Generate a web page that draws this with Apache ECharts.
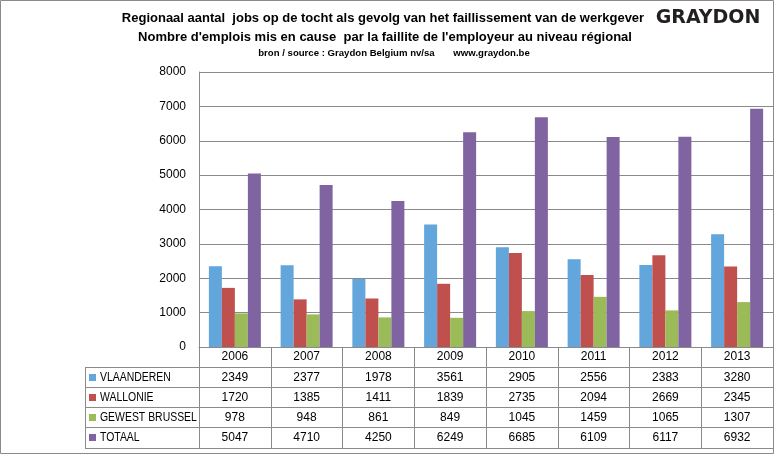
<!DOCTYPE html>
<html><head><meta charset="utf-8">
<script src="https://cdn.jsdelivr.net/npm/echarts@6/dist/echarts.min.js"></script>
<style>html,body{margin:0;padding:0;background:#fff}#c{width:775px;height:455px}</style>
</head><body><div id="c"></div>
<script>
const years = ['2006','2007','2008','2009','2010','2011','2012','2013'];
const vlaanderen = [2349,2377,1978,3561,2905,2556,2383,3280];
const wallonie = [1720,1385,1411,1839,2735,2094,2669,2345];
const brussel = [978,948,861,849,1045,1459,1065,1307];
const totaal = [5047,4710,4250,6249,6685,6109,6117,6932];
const seriesNames = ['VLAANDEREN','WALLONIE','GEWEST BRUSSEL','TOTAAL'];
const seriesData = [vlaanderen, wallonie, brussel, totaal];
const colors = ['#62A6DC','#C0504D','#9BBB59','#8064A2'];
const titleLines = [
  'Regionaal aantal  jobs op de tocht als gevolg van het faillissement van de werkgever',
  "Nombre d'emplois mis en cause  par la faillite de l'employeur au niveau régional",
  'bron / source : Graydon Belgium nv/sa       www.graydon.be'
];
const yMin = 0, yMax = 8000, yStep = 1000;

const GRID = '#8a8a8a';
const FONT = "'Liberation Sans', Arial, sans-serif";

const chart = echarts.init(document.getElementById('c'), null, {renderer:'canvas'});
chart.setOption({
  animation:false,
  backgroundColor:'#fff',
  grid:{left:199, right:2, top:72, bottom:108, containLabel:false},
  xAxis:{type:'category', data:years, boundaryGap:true,
    axisLine:{show:true, lineStyle:{color:GRID}},
    axisTick:{show:true, interval:0, length:101, lineStyle:{color:GRID}},
    axisLabel:{show:true, interval:0, margin:4, color:'#000', fontFamily:FONT, fontSize:12},
    splitLine:{show:false}},
  yAxis:{type:'value', min:yMin, max:yMax, interval:yStep,
    axisLine:{show:true, lineStyle:{color:GRID}},
    axisTick:{show:false},
    axisLabel:{margin:13, color:'#000', fontFamily:FONT, fontSize:12, formatter:v=>String(v)},
    splitLine:{show:true, lineStyle:{color:GRID}}},
  series: seriesData.map((d,i)=>({
    name:seriesNames[i], type:'bar', data:d, barWidth:13, barGap:'0%',
    itemStyle:{color:colors[i]}
  }))
});

const xs = years.map(y => chart.convertToPixel({xAxisIndex:0}, y));
const y0 = chart.convertToPixel({yAxisIndex:0}, 0);
const rowH = 20;
const tableLeft = 85, tableRight = 773;
const g = [];
// outer border
g.push({type:'rect', shape:{x:0.5,y:0.5,width:773,height:453}, style:{fill:null, stroke:GRID, lineWidth:1}, silent:true});
// title
g.push({type:'text', style:{text:titleLines[0], x:383, y:18, align:'center', verticalAlign:'middle', font:"bold 13px "+FONT, fill:'#000'}, silent:true});
g.push({type:'text', style:{text:titleLines[1], x:385, y:37, align:'center', verticalAlign:'middle', font:"bold 13px "+FONT, fill:'#000'}, silent:true});
g.push({type:'text', style:{text:titleLines[2], x:394, y:53, align:'center', verticalAlign:'middle', font:"bold 9.6px "+FONT, fill:'#000'}, silent:true});
g.push({type:'text', style:{text:'GRAYDON', x:708, y:18, align:'center', verticalAlign:'middle', font:"bold 19px 'DejaVu Sans', sans-serif", fill:'#231f20'}, silent:true});
// table lines
for (let r=1;r<=5;r++){
  const yy = Math.round(y0 + r*rowH) + 0.5 + (r===5?1:0);
  g.push({type:'line', shape:{x1:tableLeft, y1:yy, x2:tableRight, y2:yy}, style:{stroke:GRID, lineWidth:1}, silent:true});
}
g.push({type:'line', shape:{x1:tableLeft+0.5, y1:y0+rowH, x2:tableLeft+0.5, y2:y0+5*rowH+1.5}, style:{stroke:GRID, lineWidth:1}, silent:true});
// legend cells
seriesNames.forEach((n,i)=>{
  const cy = y0 + rowH*(i+1) + rowH/2 + 0.5;
  g.push({type:'rect', shape:{x:89, y:cy-3.5, width:7, height:7}, style:{fill:colors[i]}, silent:true});
  g.push({type:'text', x:100, y:cy, scaleX:0.87, style:{text:n, x:0, y:0, align:'left', verticalAlign:'middle', font:"12px "+FONT, fill:'#000'}, silent:true});
  seriesData[i].forEach((v,j)=>{
    g.push({type:'text', style:{text:String(v), x:xs[j], y:cy, align:'center', verticalAlign:'middle', font:"12px "+FONT, fill:'#000'}, silent:true});
  });
});
chart.setOption({graphic:g});
</script></body></html>
